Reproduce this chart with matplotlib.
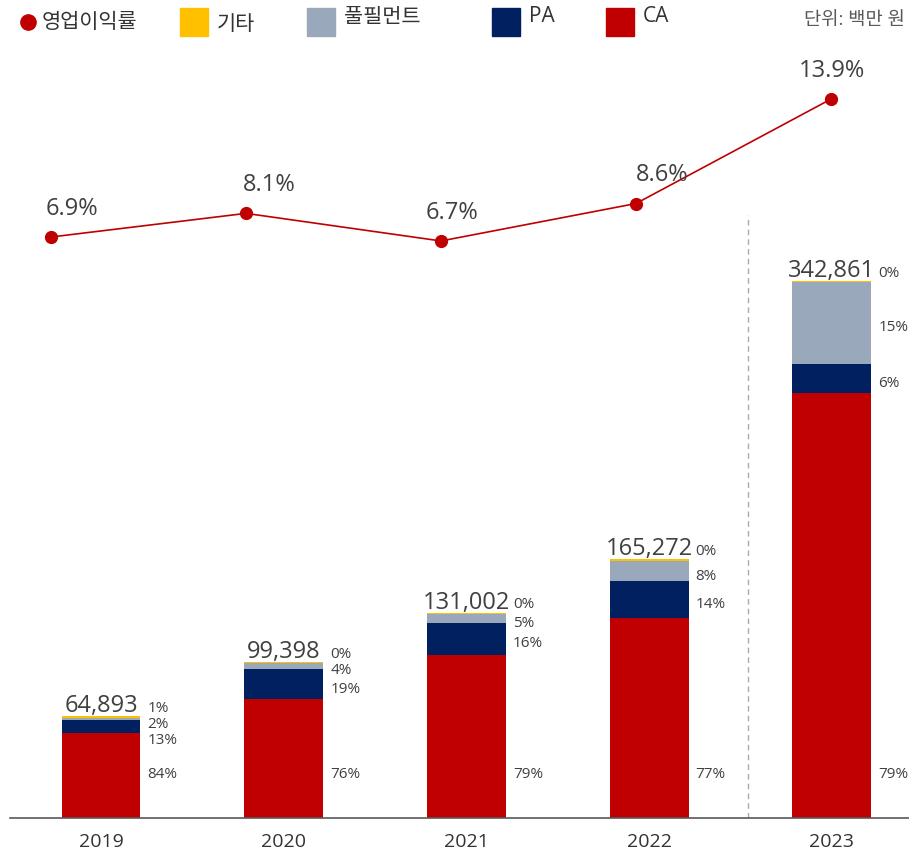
import matplotlib.pyplot as plt
from matplotlib.patches import Rectangle
from matplotlib.lines import Line2D

plt.rcParams['font.family'] = ['Open Sans', 'Noto Sans CJK KR', 'DejaVu Sans']

# data (백만 원)
years = ['2019', '2020', '2021', '2022', '2023']
totals = [64893, 99398, 131002, 165272, 342861]
ca = [54300, 76000, 104100, 127700, 271300]
pa = [8400, 19100, 20400, 23600, 18500]
fulfill = [1400, 3900, 6000, 12800, 52600]
etc = [793, 398, 502, 1172, 461]
pct_ca = [84, 76, 79, 77, 79]
pct_pa = [13, 19, 16, 14, 6]
pct_fulfill = [2, 4, 5, 8, 15]
pct_etc = [1, 0, 0, 0, 0]
margin = [6.9, 8.1, 6.7, 8.6, 13.9]

c_ca, c_pa, c_ful, c_etc = '#C00000', '#002060', '#9AA8BC', '#FFC000'
txt = '#404040'

W, H = 909, 856
fig = plt.figure(figsize=(W / 100, H / 100), dpi=100)
rect = [10 / W, (H - 818) / H, 899 / W, (818 - 50) / H]
ax = fig.add_axes(rect)
ax.set_xlim(-0.498, 4.422)
ymax = 490350
ax.set_ylim(0, ymax)
unit = ymax / 768  # data units per pixel

x = list(range(len(years)))
bw = 0.432
bottom = [0] * 5
for vals, col in [(ca, c_ca), (pa, c_pa), (fulfill, c_ful), (etc, c_etc)]:
    ax.bar(x, vals, bw, bottom=bottom, color=col, edgecolor='none')
    bottom = [b + v for b, v in zip(bottom, vals)]

for s in ['top', 'right', 'left']:
    ax.spines[s].set_visible(False)
ax.spines['bottom'].set_color('#595959')
ax.spines['bottom'].set_linewidth(1.2)
ax.set_yticks([])
ax.set_xticks(x)
ax.set_xticklabels(years, fontsize=14, color='#333333')
ax.tick_params(axis='x', length=0, pad=11)
ax.axvline(3.54, ymin=0, ymax=(818 - 215) / 768, color='#AAAAAA', ls=(0, (4, 3)), lw=1)

# labels
for i in x:
    ax.annotate(f'{totals[i]:,}', (i, totals[i]), xytext=(0, 3), textcoords='offset points',
                ha='center', va='baseline', fontsize=17, color=txt)
    lx = i + bw / 2 + 7 * (4.92 / 899)
    ax.text(lx, 43 * unit, f'{pct_ca[i]}%', fontsize=11, color=txt, va='center')
    y_etc = totals[i] + 8 * unit
    y_ful = ca[i] + pa[i] + fulfill[i] / 2 - 5 * unit
    y_pa = ca[i] + pa[i] / 2 - 5 * unit
    y_ful = min(y_ful, y_etc - 16 * unit)
    y_pa = min(y_pa, y_ful - 16 * unit)
    for yy, p in [(y_etc, pct_etc[i]), (y_ful, pct_fulfill[i]), (y_pa, pct_pa[i])]:
        ax.text(lx, yy, f'{p}%', fontsize=11, color=txt, va='center')

# operating margin line
ax2 = fig.add_axes(rect)
ax2.patch.set_alpha(0)
ax2.axis('off')
ax2.set_xlim(-0.2103, 4.4)
ax2.set_ylim(-22.58, 16.39)
ax2.plot(x, margin, color=c_ca, lw=1.2, marker='o', ms=8.5, zorder=3)
label_dx = [15, 17, 8, 19, 1]  # label shifts in points, as in the source
for i in x:
    ax2.annotate(f'{margin[i]}%', (i, margin[i]), xytext=(label_dx[i], 16), textcoords='offset points',
                 ha='center', va='baseline', fontsize=17, color=txt)

# legend
fig.lines.append(Line2D([28 / W], [1 - 22 / H], marker='o', ms=11, color=c_ca,
                        transform=fig.transFigure))
fig.text(42 / W, 1 - 22 / H, '영업이익률', fontsize=15, color='#333333', va='center')
for x0, col, lab, ty in [(180, c_etc, '기타', 25), (307, c_ful, '풀필먼트', 18),
                         (492, c_pa, 'PA', 17), (606, c_ca, 'CA', 17)]:
    fig.patches.append(Rectangle((x0 / W, 1 - 36 / H), 28 / W, 28 / H, color=col,
                                 transform=fig.transFigure))
    fig.text((x0 + 37) / W, 1 - ty / H, lab, fontsize=15, color='#333333', va='center')
fig.text(905 / W, 1 - 20 / H, '단위: 백만 원', fontsize=13.5, color='#595959', va='center', ha='right')

fig.savefig('out.png', dpi=100)
